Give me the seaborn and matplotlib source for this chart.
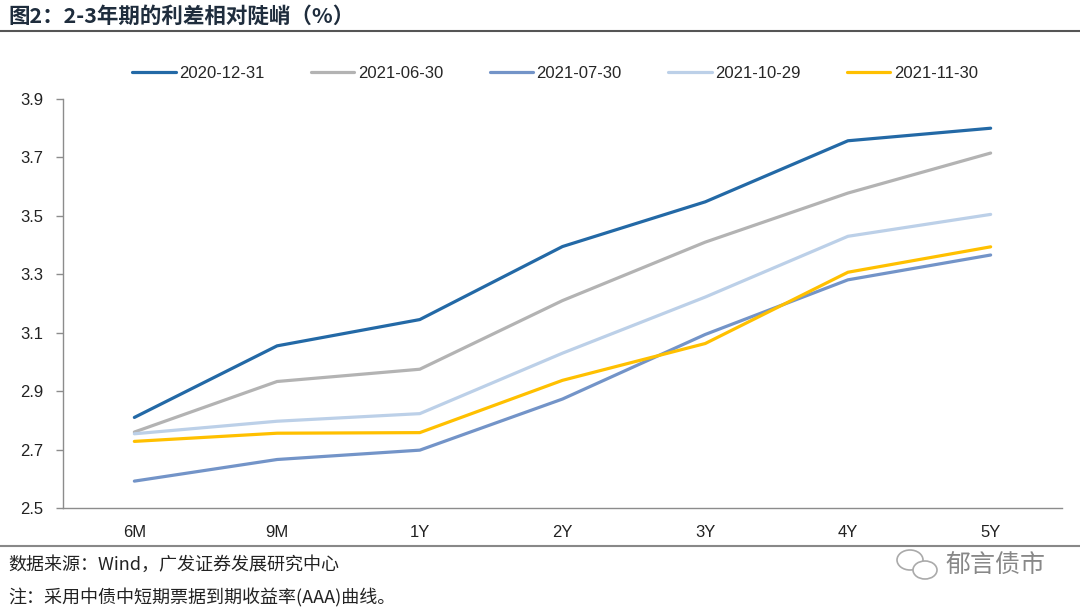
import matplotlib
matplotlib.use("Agg")
import matplotlib.pyplot as plt
from matplotlib.patches import Ellipse
import seaborn as sns
import pandas as pd

tenors = ["6M", "9M", "1Y", "2Y", "3Y", "4Y", "5Y"]
s_20201231 = [2.81, 3.055, 3.145, 3.395, 3.548, 3.757, 3.80]
s_20210630 = [2.76, 2.933, 2.975, 3.21, 3.41, 3.578, 3.715]
s_20210730 = [2.592, 2.666, 2.698, 2.873, 3.094, 3.281, 3.366]
s_20211029 = [2.754, 2.797, 2.823, 3.03, 3.222, 3.43, 3.505]
s_20211130 = [2.728, 2.756, 2.758, 2.937, 3.063, 3.307, 3.394]
series_names = ["2020-12-31", "2021-06-30", "2021-07-30", "2021-10-29", "2021-11-30"]
yticks = [2.5, 2.7, 2.9, 3.1, 3.3, 3.5, 3.7, 3.9]

colors = ["#2369a6", "#b3b3b3", "#7394c8", "#bcd0e8", "#ffc000"]

rows = []
for name, vals in zip(series_names, [s_20201231, s_20210630, s_20210730, s_20211029, s_20211130]):
    for i, (t, v) in enumerate(zip(tenors, vals)):
        rows.append({"tenor": t, "x": i, "value": v, "series": name})
df = pd.DataFrame(rows)

sns.set_theme(style="white")
plt.rcParams["font.family"] = ["Liberation Sans", "Noto Sans CJK SC", "DejaVu Sans"]

fig = plt.figure(figsize=(10.8, 6.13), dpi=100)
ax = fig.add_axes([63/1080, (613-508)/613, (1062-63)/1080, (508-99)/613])

sns.lineplot(data=df, x="x", y="value", hue="series", hue_order=series_names,
             palette=colors, linewidth=2.3, ax=ax, legend=True, sort=False)

ax.set_xlim(-0.5, len(tenors) - 0.5)
ax.set_ylim(2.5, 3.9)
ax.set_xticks(range(len(tenors)))
ax.set_xticklabels(tenors)
ax.set_yticks(yticks)
ax.set_yticklabels([f"{t:.1f}" for t in yticks])
ax.set_xlabel("")
ax.set_ylabel("")
for side in ["top", "right"]:
    ax.spines[side].set_visible(False)
for side in ["left", "bottom"]:
    ax.spines[side].set_color("#8c8c8c")
    ax.spines[side].set_linewidth(1.0)
ax.tick_params(axis="y", which="major", left=True, length=5, width=1, color="#8c8c8c",
               labelsize=12, labelcolor="#222222", pad=9)
ax.tick_params(axis="x", which="major", bottom=False, labelsize=12, labelcolor="#222222", pad=6)
ax.grid(False)

handles, labels = ax.get_legend_handles_labels()
ax.legend(handles, labels, loc="center", bbox_to_anchor=(0.5 + (555 - 562.5) / 999, (508 - 73) / 409), ncol=5,
          frameon=False, fontsize=12, handlelength=2.6, handletextpad=0.2, columnspacing=2.8)

# Title and lines
fig.text(8/1080, 1 - 16/613, "图2：2-3年期的利差相对陡峭（%）", fontsize=15.5, fontweight="bold",
         color="#1f2d3d", va="center", ha="left",
         family=["Noto Sans CJK SC", "DejaVu Sans"])
fig.add_artist(plt.Line2D([0, 1], [1 - 31/613, 1 - 31/613], color="#555555", linewidth=1.5))
fig.add_artist(plt.Line2D([0, 1], [1 - 546/613, 1 - 546/613], color="#888888", linewidth=1.5))

fig.text(8/1080, 1 - 565/613, "数据来源：Wind，广发证券发展研究中心", fontsize=13, color="#222222",
         va="center", ha="left", family=["Noto Sans CJK SC", "DejaVu Sans"])
fig.text(8/1080, 1 - 598/613, "注：采用中债中短期票据到期收益率(AAA)曲线。", fontsize=13, color="#222222",
         va="center", ha="left", family=["Noto Sans CJK SC", "DejaVu Sans"])
fig.text(1045/1080, 1 - 566/613, "郁言债市", fontsize=18, color="#888888",
         va="center", ha="right", family=["Noto Sans CJK SC", "DejaVu Sans"])

# simple chat-bubble icon next to watermark
fig.add_artist(Ellipse((910/1080, 1 - 560/613), 26/1080, 20/613, fill=False,
                       edgecolor="#aaaaaa", linewidth=1.2, transform=fig.transFigure))
fig.add_artist(Ellipse((925/1080, 1 - 570/613), 24/1080, 18/613, facecolor="white",
                       edgecolor="#aaaaaa", linewidth=1.2, transform=fig.transFigure))

fig.savefig("out.png", dpi=100)
